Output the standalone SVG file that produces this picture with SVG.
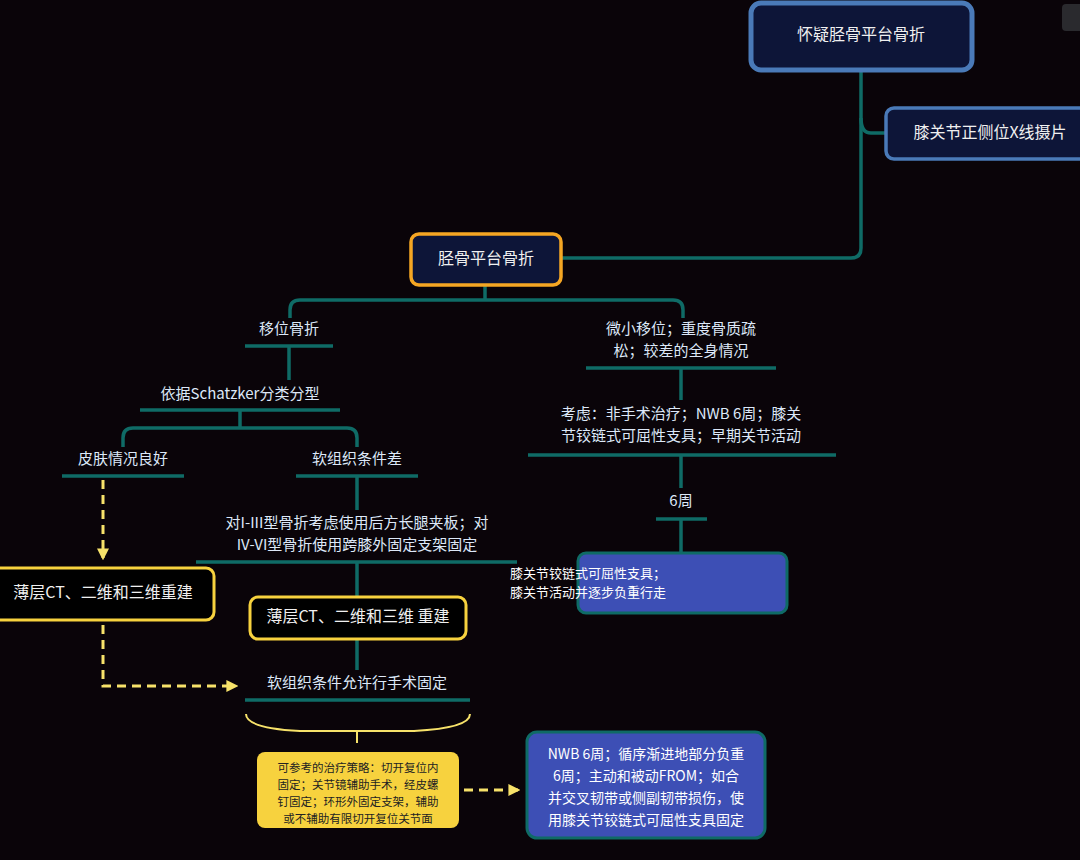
<svg xmlns="http://www.w3.org/2000/svg" width="1080" height="860" viewBox="0 0 1080 860">
<defs>
<style>
text{font-family:"Noto Sans CJK SC","Noto Sans",sans-serif;text-anchor:middle;dominant-baseline:middle}
.lbl{fill:#dde8f8;font-size:15px}
.bx{fill:#f0f0f0;font-size:16px}
.ln{fill:none;stroke:#0f6b66;stroke-width:3.5}
.dash{fill:none;stroke:#f7e26a;stroke-width:3;stroke-dasharray:9 6}
.blue{fill:#3d4fb5;stroke:#0f6b66;stroke-width:3}
.yl{fill:none;stroke:#f7e26a;stroke-width:2}
</style>
<marker id="ah" viewBox="0 0 10 10" refX="8" refY="5" markerWidth="4" markerHeight="4" orient="auto"><path d="M0,0L10,5L0,10z" fill="#f7e26a"/></marker>
</defs>
<rect width="1080" height="860" fill="#0a0409"/>
<rect x="1062" y="4" width="22" height="27" rx="4" fill="#2a2a2e"/>
<g id="connectors">
<path class="ln" d="M861,70V248Q861,258 851,258H562"/>
<path class="ln" d="M861,118Q861,133 871,133H886"/>
<path class="ln" d="M485,285V300M290,318V310Q290,300 300,300H673Q683,300 683,310V318"/>
<path class="ln" d="M245,346H333M289,346V380M140,410H340M240,410V428M123,447V438Q123,428 133,428H347Q357,428 357,438V447"/>
<path class="ln" d="M62,476H184M296,476H418M357,476V510M196,562H517M357,562V597M357,639V670M245,700H470"/>
<path class="ln" d="M586,368H776M681,368V400M528,455H836M681,455V488M656,519H707M681,519V553"/>
<path class="dash" d="M103,480V558" marker-end="url(#ah)"/>
<path class="dash" d="M103,625V686H236" marker-end="url(#ah)"/>
<path class="dash" d="M464,790H518" marker-end="url(#ah)"/>
<path class="yl" d="M246,714Q246,728 300,731H414Q470,728 470,714M357,731V743"/>
</g>
<g id="n-root"><rect x="751" y="3" width="221" height="67" rx="10" fill="#0d1538" stroke="#4a7ab8" stroke-width="5"/><text class="bx" x="861" y="36">怀疑胫骨平台骨折</text></g>
<g id="n-xray"><rect x="886" y="108" width="210" height="51" rx="8" fill="#0d1538" stroke="#4a7ab8" stroke-width="3.5"/><text class="bx" x="990" y="134">膝关节正侧位X线摄片</text></g>
<g id="n-frac"><rect x="411" y="234" width="150" height="51" rx="8" fill="#0d1538" stroke="#f5a623" stroke-width="3.5"/><text class="bx" x="486" y="260">胫骨平台骨折</text></g>
<g id="n-disp"><text class="lbl" x="289" y="330">移位骨折</text></g>
<g id="n-min"><text class="lbl" x="681" y="330">微小移位；重度骨质疏</text><text class="lbl" x="681" y="352">松；较差的全身情况</text></g>
<g id="n-sch"><text class="lbl" x="240" y="395">依据Schatzker分类分型</text></g>
<g id="n-skin"><text class="lbl" x="123" y="460">皮肤情况良好</text></g>
<g id="n-soft"><text class="lbl" x="357" y="460">软组织条件差</text></g>
<g id="n-splint"><text class="lbl" x="357" y="524">对I-III型骨折考虑使用后方长腿夹板；对</text><text class="lbl" x="357" y="546">IV-VI型骨折使用跨膝外固定支架固定</text></g>
<g id="n-ct1"><rect x="-10" y="568" width="224" height="52" rx="8" fill="#000" stroke="#f7d23e" stroke-width="3"/><text class="bx" x="103" y="594">薄层CT、二维和三维重建</text></g>
<g id="n-ct2"><rect x="250" y="597" width="216" height="42" rx="8" fill="#000" stroke="#f7d23e" stroke-width="3"/><text class="bx" x="358" y="618">薄层CT、二维和三维 重建</text></g>
<g id="n-allow"><text class="lbl" x="357" y="684">软组织条件允许行手术固定</text></g>
<g id="n-strat"><rect x="257" y="752" width="202" height="76" rx="8" fill="#f7d23e"/>
<g fill="#222" font-size="11.5"><text x="358" y="769">可参考的治疗策略：切开复位内</text><text x="358" y="786">固定；关节镜辅助手术，经皮螺</text><text x="358" y="803">钉固定；环形外固定支架，辅助</text><text x="358" y="820">或不辅助有限切开复位关节面</text></g></g>
<g id="n-post"><rect class="blue" x="527" y="732" width="238" height="106" rx="10"/>
<g fill="#fff" font-size="14"><text x="646" y="755">NWB 6周；循序渐进地部分负重</text><text x="646" y="777">6周；主动和被动FROM；如合</text><text x="646" y="799">并交叉韧带或侧副韧带损伤，使</text><text x="646" y="821">用膝关节铰链式可屈性支具固定</text></g></g>
<g id="n-cons"><text class="lbl" x="681" y="415">考虑：非手术治疗；NWB 6周；膝关</text><text class="lbl" x="681" y="437">节铰链式可屈性支具；早期关节活动</text></g>
<g id="n-6w"><text class="lbl" x="681" y="502">6周</text></g>
<g id="n-brace"><rect class="blue" x="578" y="553" width="209" height="60" rx="8"/>
<g fill="#fff" font-size="13" style="text-anchor:start"><text x="588" y="574">膝关节铰链式可屈性支具；</text><text x="588" y="593">膝关节活动并逐步负重行走</text></g></g>
</svg>
